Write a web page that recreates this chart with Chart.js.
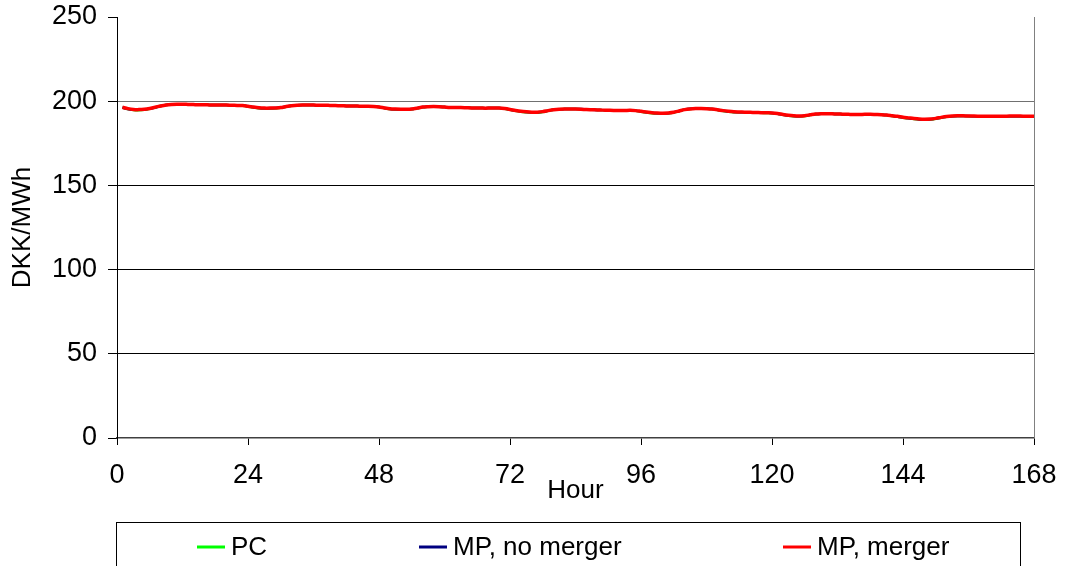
<!DOCTYPE html>
<html>
<head>
<meta charset="utf-8">
<script src="https://cdn.jsdelivr.net/npm/chart.js@4.4.1/dist/chart.umd.min.js"></script>
<style>
  html, body { margin: 0; padding: 0; background: #ffffff; }
  #wrap { width: 1066px; height: 566px; }
</style>
</head>
<body>
<div id="wrap"><canvas id="c" width="1066" height="566"></canvas></div>
<script>
// Hourly prices over one week (DKK/MWh)
const hours = Array.from({ length: 168 }, (_, i) => i + 1);

const seriesNames = ['PC', 'MP, no merger', 'MP, merger'];

const pcPrice = [
  196.2, 195.3, 194.8, 194.7, 194.9, 195.5, 196.3, 197.1,
  197.8, 198.1, 198.2, 198.2, 198.1, 198.0, 197.9, 197.9,
  197.8, 197.8, 197.7, 197.7, 197.6, 197.5, 197.3, 196.9,
  196.3, 195.8, 195.6, 195.6, 195.8, 196.1, 196.7, 197.3,
  197.6, 197.7, 197.7, 197.7, 197.6, 197.6, 197.5, 197.4,
  197.3, 197.2, 197.1, 197.1, 197.0, 197.0, 196.9, 196.5,
  195.9, 195.3, 195.1, 195.0, 195.0, 195.2, 195.8, 196.4,
  196.7, 196.8, 196.7, 196.5, 196.3, 196.2, 196.2, 196.1,
  196.0, 196.0, 195.9, 195.9, 196.0, 195.9, 195.5, 194.9,
  194.3, 193.7, 193.4, 193.2, 193.2, 193.6, 194.3, 194.9,
  195.2, 195.3, 195.3, 195.3, 195.2, 195.0, 194.9, 194.8,
  194.7, 194.6, 194.5, 194.5, 194.5, 194.6, 194.3, 193.8,
  193.3, 192.9, 192.7, 192.6, 192.8, 193.3, 194.1, 195.0,
  195.4, 195.6, 195.6, 195.5, 195.3, 194.8, 194.2, 193.8,
  193.5, 193.4, 193.4, 193.3, 193.2, 193.1, 193.0, 192.9,
  192.5, 191.9, 191.4, 191.1, 191.0, 191.2, 191.8, 192.3,
  192.6, 192.6, 192.5, 192.4, 192.3, 192.2, 192.1, 192.1,
  192.2, 192.2, 192.1, 192.0, 191.7, 191.2, 190.7, 190.2,
  189.8, 189.4, 189.1, 189.0, 189.2, 189.6, 190.2, 190.8,
  191.1, 191.2, 191.2, 191.1, 191.1, 191.0, 190.9, 190.9,
  190.9, 191.0, 191.0, 191.1, 191.1, 191.0, 191.0, 190.9
];

const mpNoMergerPrice = [
  196.3, 195.4, 195.0, 194.9, 195.1, 195.6, 196.3, 197.1,
  197.8, 198.1, 198.2, 198.2, 198.1, 198.0, 197.9, 197.9,
  197.8, 197.8, 197.7, 197.7, 197.6, 197.5, 197.4, 197.0,
  196.4, 196.0, 195.8, 195.8, 195.9, 196.2, 196.8, 197.3,
  197.6, 197.7, 197.7, 197.7, 197.6, 197.6, 197.5, 197.4,
  197.3, 197.2, 197.1, 197.1, 197.0, 197.0, 196.9, 196.6,
  196.0, 195.4, 195.2, 195.1, 195.1, 195.3, 195.9, 196.5,
  196.7, 196.8, 196.7, 196.5, 196.3, 196.2, 196.2, 196.1,
  196.0, 196.0, 195.9, 195.9, 196.0, 195.9, 195.6, 195.0,
  194.4, 193.9, 193.6, 193.4, 193.4, 193.7, 194.4, 194.9,
  195.2, 195.3, 195.4, 195.4, 195.3, 195.1, 194.9, 194.8,
  194.7, 194.6, 194.5, 194.5, 194.5, 194.6, 194.4, 193.9,
  193.5, 193.1, 192.9, 192.8, 192.9, 193.4, 194.2, 195.0,
  195.5, 195.7, 195.7, 195.6, 195.3, 194.9, 194.3, 193.9,
  193.6, 193.5, 193.5, 193.4, 193.3, 193.2, 193.1, 193.0,
  192.6, 192.0, 191.5, 191.2, 191.1, 191.3, 191.9, 192.4,
  192.6, 192.6, 192.5, 192.4, 192.3, 192.2, 192.1, 192.1,
  192.2, 192.2, 192.1, 192.0, 191.8, 191.3, 190.8, 190.3,
  189.9, 189.5, 189.2, 189.1, 189.3, 189.7, 190.3, 190.8,
  191.1, 191.2, 191.2, 191.2, 191.1, 191.0, 191.0, 190.9,
  190.9, 191.0, 191.1, 191.1, 191.1, 191.1, 191.0, 190.9
];

const mpMergerPrice = [
  196.4, 195.6, 195.1, 195.0, 195.2, 195.7, 196.4, 197.2,
  197.8, 198.1, 198.2, 198.2, 198.1, 198.0, 197.9, 197.9,
  197.8, 197.8, 197.7, 197.7, 197.6, 197.5, 197.4, 197.0,
  196.5, 196.1, 195.9, 195.9, 196.0, 196.2, 196.8, 197.3,
  197.6, 197.7, 197.7, 197.7, 197.6, 197.6, 197.5, 197.4,
  197.3, 197.2, 197.1, 197.1, 197.0, 197.0, 196.9, 196.6,
  196.0, 195.5, 195.3, 195.2, 195.2, 195.4, 195.9, 196.5,
  196.7, 196.8, 196.7, 196.5, 196.3, 196.2, 196.2, 196.1,
  196.0, 196.0, 195.9, 195.9, 196.0, 195.9, 195.6, 195.1,
  194.5, 194.0, 193.7, 193.5, 193.5, 193.8, 194.4, 194.9,
  195.2, 195.3, 195.3, 195.3, 195.2, 195.0, 194.9, 194.8,
  194.7, 194.6, 194.5, 194.5, 194.5, 194.6, 194.4, 194.0,
  193.6, 193.2, 193.0, 192.9, 193.0, 193.4, 194.2, 195.0,
  195.4, 195.6, 195.6, 195.5, 195.3, 194.9, 194.4, 194.0,
  193.7, 193.6, 193.5, 193.4, 193.3, 193.2, 193.1, 193.0,
  192.7, 192.1, 191.6, 191.3, 191.2, 191.4, 191.9, 192.4,
  192.6, 192.6, 192.5, 192.4, 192.3, 192.2, 192.1, 192.1,
  192.2, 192.2, 192.1, 192.0, 191.8, 191.4, 191.0, 190.5,
  190.1, 189.7, 189.4, 189.3, 189.4, 189.8, 190.4, 190.9,
  191.2, 191.3, 191.3, 191.2, 191.2, 191.1, 191.0, 191.0,
  191.0, 191.1, 191.1, 191.2, 191.2, 191.1, 191.1, 191.0
];

const xTicks = [0, 24, 48, 72, 96, 120, 144, 168];
const yTicks = [0, 50, 100, 150, 200, 250];

const seriesColors = ['#00ff00', '#000080', '#ff0000'];
const FONT = '"Liberation Sans", Arial, sans-serif';

const toPoints = vals => vals.map((v, i) => ({ x: hours[i], y: v }));

// Framed legend row under the axis title, with short line swatches
const framedLegend = {
  id: 'framedLegend',
  afterDraw(chart) {
    const ctx = chart.ctx;
    ctx.save();
    ctx.strokeStyle = '#000000';
    ctx.lineWidth = 1;
    ctx.strokeRect(116.5, 522.5, 904, 80);
    const itemX = [197, 419, 783];
    const y = 547;
    ctx.font = '26px ' + FONT;
    ctx.textBaseline = 'middle';
    ctx.textAlign = 'left';
    chart.data.datasets.forEach((ds, i) => {
      ctx.strokeStyle = ds.borderColor;
      ctx.lineWidth = 3;
      ctx.beginPath();
      ctx.moveTo(itemX[i], y);
      ctx.lineTo(itemX[i] + 28, y);
      ctx.stroke();
      ctx.fillStyle = '#000000';
      ctx.fillText(ds.label, itemX[i] + 34, y + 1);
    });
    // right edge of the plot area
    const a = chart.chartArea;
    ctx.strokeStyle = '#808080';
    ctx.lineWidth = 1;
    ctx.beginPath();
    ctx.moveTo(Math.round(a.right) + 0.5, a.top);
    ctx.lineTo(Math.round(a.right) + 0.5, a.bottom);
    ctx.stroke();
    ctx.restore();
  }
};

new Chart(document.getElementById('c'), {
  type: 'line',
  data: {
    datasets: [
      { label: seriesNames[0], data: toPoints(pcPrice), borderColor: seriesColors[0], borderWidth: 2.5, order: 2 },
      { label: seriesNames[1], data: toPoints(mpNoMergerPrice), borderColor: seriesColors[1], borderWidth: 2.5, order: 1 },
      { label: seriesNames[2], data: toPoints(mpMergerPrice), borderColor: seriesColors[2], borderWidth: 3.5, order: 0 }
    ].map(d => Object.assign(d, { pointRadius: 0, fill: false, tension: 0.3 }))
  },
  options: {
    responsive: false,
    devicePixelRatio: 1,
    animation: false,
    layout: { padding: { left: 0, top: 17, right: 32, bottom: 0 } },
    plugins: {
      legend: { display: false },
      tooltip: { enabled: false }
    },
    scales: {
      x: {
        type: 'linear',
        min: 0,
        max: 168,
        afterBuildTicks: s => { s.ticks = xTicks.map(v => ({ value: v })); },
        afterFit: s => { s.height = 128; s.paddingLeft = 0; s.paddingRight = 0; },
        ticks: {
          color: '#000000',
          font: { family: FONT, size: 27 },
          padding: 14,
          maxRotation: 0,
          autoSkip: false
        },
        grid: {
          drawOnChartArea: false,
          drawTicks: true,
          tickLength: 7,
          tickColor: '#000000'
        },
        border: { color: '#404040', width: 1.5 },
        title: {
          display: true,
          text: 'Hour',
          color: '#000000',
          font: { family: FONT, size: 26 },
          padding: { top: 0, bottom: 60 }
        }
      },
      y: {
        min: 0,
        max: 250,
        afterBuildTicks: s => { s.ticks = yTicks.map(v => ({ value: v })); },
        afterFit: s => { s.width = 117; s.paddingTop = 0; s.paddingBottom = 0; },
        ticks: {
          color: '#000000',
          font: { family: FONT, size: 27 },
          padding: 11
        },
        grid: {
          color: c => (c.tick && c.tick.value > 0 && c.tick.value < 250) ? (c.tick.value === 200 ? '#707070' : '#000000') : 'rgba(0,0,0,0)',
          lineWidth: 1,
          tickLength: 9,
          tickColor: '#000000'
        },
        border: { color: '#000000', width: 1 },
        title: {
          display: true,
          text: 'DKK/MWh',
          color: '#000000',
          font: { family: FONT, size: 26 },
          padding: { top: 7, bottom: 0 }
        }
      }
    }
  },
  plugins: [framedLegend]
});
</script>
</body>
</html>
